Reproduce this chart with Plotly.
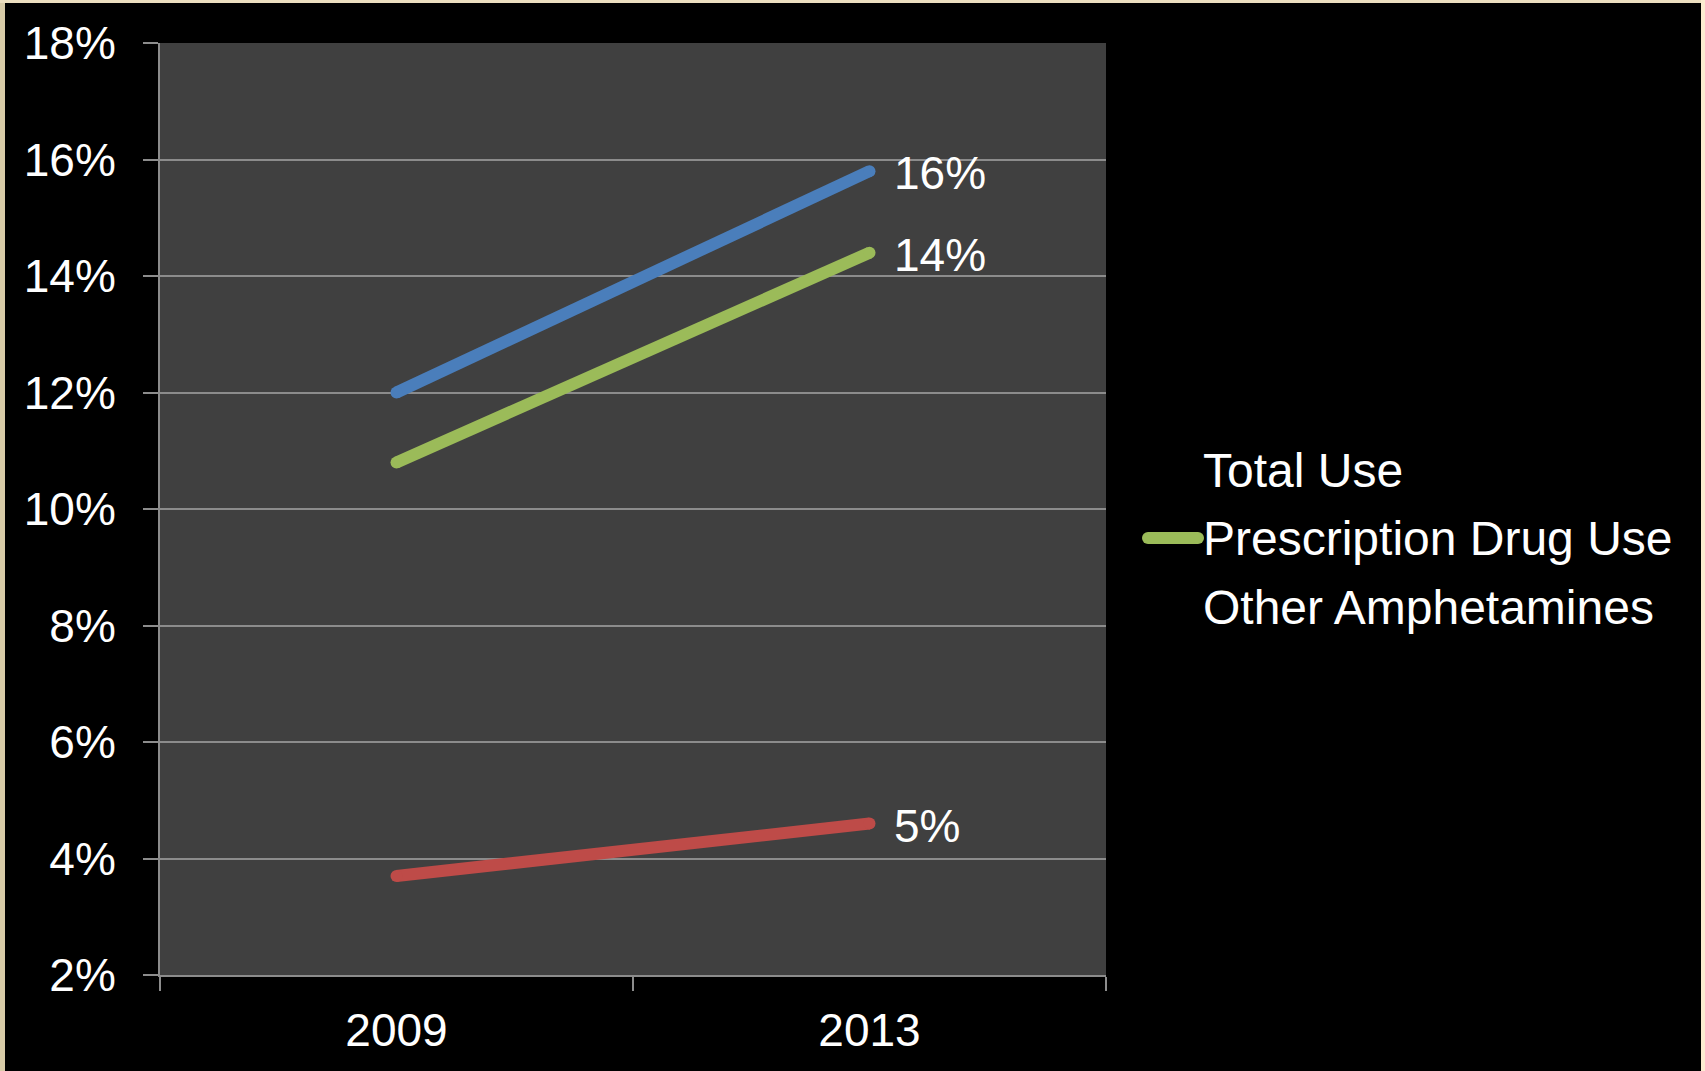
import plotly.graph_objects as go

# ---- data ----
years = ["2009", "2013"]
total_use = [12.0, 15.8]
prescription_use = [10.8, 14.4]
other_amphetamines = [3.7, 4.6]
end_labels = ["16%", "14%", "5%"]
series_names = ["Total Use", "Prescription Drug Use", "Other Amphetamines"]
y_ticks = [2, 4, 6, 8, 10, 12, 14, 16, 18]

# ---- layout constants ----
W, H = 1705, 1071
ML, MR, MT, MB = 160, 599, 43, 96
PW, PH = W - ML - MR, H - MT - MB
FONT = "Liberation Sans, Arial, sans-serif"
FS = 46
LFS = 48
colors = ["#4A7EBB", "#9BBB59", "#BE4B48"]
LW = 12


def px_x(px):
    return (px - ML) / PW


def px_y(py):
    return (H - MB - py) / PH


fig = go.Figure()
series = [total_use, prescription_use, other_amphetamines]
for name, vals, c in zip(series_names, series, colors):
    fig.add_trace(go.Scatter(
        x=years, y=vals, mode="lines+markers", name=name,
        line=dict(color=c, width=LW),
        marker=dict(color=c, size=LW, line=dict(width=0)),
        showlegend=False, hoverinfo="skip",
    ))

# legend entries (text only; the reference shows only the green key)
for i, name in enumerate(series_names):
    fig.add_trace(go.Scatter(
        x=[None], y=[None], mode="lines", name=name, legendgroup=f"g{i}",
        line=dict(color="rgba(0,0,0,0)", width=1), showlegend=True,
        hoverinfo="skip",
    ))

# green legend key drawn as a thick line
fig.add_shape(type="line", xref="paper", yref="paper",
              x0=px_x(1148), x1=px_x(1198), y0=px_y(538), y1=px_y(538),
              line=dict(color=colors[1], width=12), layer="above")
for xc in (1148, 1198):
    fig.add_shape(type="circle", xref="paper", yref="paper",
                  x0=px_x(xc - 6), x1=px_x(xc + 6),
                  y0=px_y(544), y1=px_y(532),
                  fillcolor=colors[1], line=dict(width=0), layer="above")

# end-of-line data labels
last = len(years) - 1
for vals, lab in zip(series, end_labels):
    fig.add_annotation(
        x=last, y=vals[-1], xref="x", yref="y", text=lab, showarrow=False,
        xanchor="left", yanchor="middle", xshift=22, yshift=-2,
        font=dict(family=FONT, size=FS, color="white"),
    )

# beige frame
border_shapes = [
    (0, 0, 5, H, "#D8CCA8"),
    (0, 0, W, 3, "#ECDFC0"),
    (W - 4, 0, W, H, "#FCEBD0"),
]
for x0, y0, x1, y1, c in border_shapes:
    fig.add_shape(type="rect", xref="paper", yref="paper",
                  x0=px_x(x0), x1=px_x(x1), y0=px_y(y1), y1=px_y(y0),
                  fillcolor=c, line=dict(width=0), layer="above")

fig.update_layout(
    width=W, height=H,
    margin=dict(l=ML, r=MR, t=MT, b=MB, pad=0),
    paper_bgcolor="black", plot_bgcolor="#404040",
    font=dict(family=FONT, size=FS, color="white"),
    showlegend=True,
    legend=dict(
        x=px_x(1163), y=px_y(537), xanchor="left", yanchor="middle",
        bgcolor="rgba(0,0,0,0)", font=dict(family=FONT, size=LFS, color="white"),
        tracegroupgap=3, itemwidth=30,
    ),
    hovermode=False,
)

fig.update_xaxes(
    type="category", range=[-0.5, 1.5], tickson="boundaries",
    showgrid=False, showline=True, linecolor="#8C8C8C", linewidth=2,
    ticks="outside", ticklen=14, tickwidth=2, tickcolor="#8C8C8C",
    tickfont=dict(family=FONT, size=FS, color="white"),
    ticklabelstandoff=14, zeroline=False,
)
fig.update_yaxes(
    range=[2, 18], tickvals=y_ticks, ticktext=[f"{v}%" for v in y_ticks],
    showgrid=True, gridcolor="#8C8C8C", gridwidth=2,
    showline=True, linecolor="#8C8C8C", linewidth=2,
    ticks="outside", ticklen=15, tickwidth=2, tickcolor="#8C8C8C",
    tickfont=dict(family=FONT, size=FS, color="white"),
    ticklabelstandoff=18, zeroline=False,
)

fig.write_html("out.html")
